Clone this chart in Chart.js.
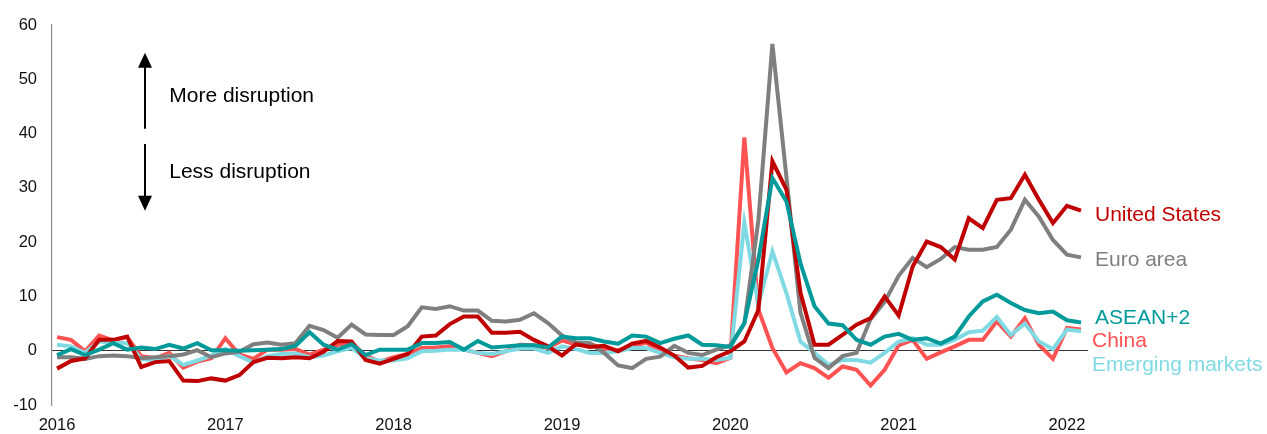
<!DOCTYPE html>
<html>
<head>
<meta charset="utf-8">
<script src="https://cdn.jsdelivr.net/npm/chart.js@4.4.1/dist/chart.umd.min.js"></script>
<style>
  html, body { margin: 0; padding: 0; background: #fff; }
  #wrap { width: 1267px; height: 434px; }
</style>
</head>
<body>
<div id="wrap"><canvas id="chart" width="1267" height="434"></canvas></div>
<script>
// Monthly index values, Jan 2016 - Feb 2022
const years = ['2016', '2017', '2018', '2019', '2020', '2021', '2022'];

const unitedStates = [
  -3.3, -1.9, -1.4, 2.0, 2.0, 2.6, -3.0, -2.1, -1.9, -5.5, -5.6, -5.1,
  -5.5, -4.5, -2.1, -1.3, -1.4, -1.2, -1.4, -0.2, 1.8, 1.7, -1.7, -2.4,
  -1.5, -0.6, 2.6, 2.8, 4.9, 6.3, 6.3, 3.3, 3.3, 3.5, 2.0, 0.8,
  -0.9, 1.2, 0.7, 0.9, -0.1, 1.3, 1.8, 0.6, -0.9, -3.1, -2.8, -1.2,
  -0.1, 1.7, 7.5, 34.9, 29.7, 10.7, 1.1, 1.1, 2.9, 4.8, 6.0, 10.0,
  6.5, 15.5, 20.1, 19.1, 16.8, 24.4, 22.6, 27.8, 28.1, 32.4, 27.8, 23.5,
  26.7, 25.8
];

const euroArea = [
  -1.2, -1.2, -1.5, -1.0, -0.9, -1.0, -1.4, -1.2, -1.0, -0.7, 0.1, -1.2,
  -0.5, -0.2, 1.2, 1.5, 1.1, 1.4, 4.6, 3.8, 2.4, 4.8, 3.0, 2.9,
  2.9, 4.5, 8.0, 7.7, 8.2, 7.4, 7.4, 5.5, 5.4, 5.7, 6.9, 5.1,
  2.8, 1.5, 1.4, -0.4, -2.7, -3.2, -1.5, -1.1, 0.9, -0.4, -0.8, 0.2,
  1.0, 5.0, 24.0, 56.5, 32.0, 7.0, -1.3, -3.2, -1.0, -0.4, 5.8, 9.0,
  13.8, 17.1, 15.4, 16.9, 19.1, 18.6, 18.6, 19.1, 22.3, 27.8, 24.7, 20.4,
  17.7, 17.2
];

const aseanPlus2 = [
  -0.8, 0.3, -0.8, 0.2, 1.4, 0.2, 0.6, 0.3, 1.1, 0.4, 1.4, 0.1,
  0.1, 0.0, 0.1, 0.2, 0.3, 0.9, 3.4, 1.1, 0.2, 1.2, -0.8, 0.2,
  0.2, 0.2, 1.4, 1.4, 1.6, 0.2, 1.8, 0.6, 0.8, 1.0, 1.0, 0.6,
  2.6, 2.3, 2.3, 1.7, 1.3, 2.8, 2.6, 1.4, 2.2, 2.8, 1.1, 1.0,
  0.7, 5.1, 16.8, 31.8, 27.5, 16.1, 8.2, 5.0, 4.7, 2.0, 1.1, 2.6,
  3.1, 2.0, 2.3, 1.3, 2.6, 6.3, 9.1, 10.3, 8.8, 7.5, 6.9, 7.2,
  5.6, 5.2
];

const china = [
  2.5, 2.0, -0.1, 2.8, 1.9, 2.5, -1.0, -1.4, -0.4, -3.1, -2.0, -1.4,
  2.3, -0.7, -1.5, 0.2, 0.2, 0.3, -0.7, 0.2, 1.1, 1.4, -0.9, -2.0,
  -1.2, -0.6, 0.5, 0.6, 0.8, 0.2, -0.4, -1.0, -0.1, 1.1, 1.0, 0.5,
  1.9, 1.1, 1.3, 0.3, 0.1, 0.8, 1.5, -0.1, -0.9, -1.4, -1.7, -2.3,
  -1.3, 39.3, 7.6, 0.5, -4.0, -2.3, -3.2, -5.0, -2.9, -3.5, -6.4, -3.5,
  1.0, 2.0, -1.5, -0.3, 0.8, 2.0, 2.0, 5.4, 2.6, 6.0, 1.1, -1.5,
  4.2, 3.9
];

const emergingMarkets = [
  1.1, 0.8, -0.4, 1.7, 1.5, 1.4, -1.5, -1.8, -0.9, -2.6, -1.8, -0.9,
  0.3, -1.0, -2.2, -1.0, -0.6, -0.5, -1.2, -0.9, -0.1, 0.5, -1.4, -1.8,
  -1.8, -1.4, -0.1, 0.0, 0.2, 0.2, -0.4, -0.6, -0.1, 0.4, 0.4, -0.4,
  0.8, 0.3, -0.4, -0.4, -0.1, 0.5, 0.5, -0.4, -1.2, -1.5, -1.5, -1.7,
  -1.3, 23.6, 8.5, 18.3, 10.6, 1.7, -0.4, -2.6, -1.7, -1.7, -2.2, -0.4,
  1.7, 2.3, 1.1, 1.1, 2.0, 3.4, 3.7, 6.2, 2.9, 5.0, 1.7, 0.3,
  3.9, 3.6
];

const FONT = '"Liberation Sans", Arial, Helvetica, sans-serif';

// Colour, stacking order and where the name tag sits at the right end
const series = [
  { label: 'United States', data: unitedStates, color: '#c00000', order: 1, tagY: 25.0, tagDx: 14 },
  { label: 'Euro area', data: euroArea, color: '#7f7f7f', order: 2, tagY: 16.75, tagDx: 14 },
  { label: 'ASEAN+2', data: aseanPlus2, color: '#009a9a', order: 0, tagY: 6.07, tagDx: 14 },
  { label: 'China', data: china, color: '#ff5353', order: 4, tagY: 1.7, tagDx: 11 },
  { label: 'Emerging markets', data: emergingMarkets, color: '#80dae3', order: 3, tagY: -2.58, tagDx: 11 }
];

// "More / Less disruption" arrows, placed in axis units
const guideNote = { x: 6.27, upTip: 54.9, upTail: 40.9, downTail: 38.1, downTip: 25.8, textX: 8.0, moreY: 46.9, lessY: 32.8 };

const guides = {
  id: 'guides',
  afterDraw(chart) {
    const { ctx, scales: { x, y } } = chart;
    const ax = Math.round(x.getPixelForValue(guideNote.x));
    const head = 15, half = 7;
    ctx.save();
    ctx.strokeStyle = '#000';
    ctx.fillStyle = '#000';
    ctx.lineWidth = 2;

    const upTip = y.getPixelForValue(guideNote.upTip);
    ctx.beginPath();
    ctx.moveTo(ax, y.getPixelForValue(guideNote.upTail));
    ctx.lineTo(ax, upTip + head - 1);
    ctx.stroke();
    ctx.beginPath();
    ctx.moveTo(ax, upTip);
    ctx.lineTo(ax - half, upTip + head);
    ctx.lineTo(ax + half, upTip + head);
    ctx.closePath();
    ctx.fill();

    const downTip = y.getPixelForValue(guideNote.downTip);
    ctx.beginPath();
    ctx.moveTo(ax, y.getPixelForValue(guideNote.downTail));
    ctx.lineTo(ax, downTip - head + 1);
    ctx.stroke();
    ctx.beginPath();
    ctx.moveTo(ax, downTip);
    ctx.lineTo(ax - half, downTip - head);
    ctx.lineTo(ax + half, downTip - head);
    ctx.closePath();
    ctx.fill();

    ctx.font = '21px ' + FONT;
    ctx.textAlign = 'left';
    ctx.textBaseline = 'middle';
    const tx = x.getPixelForValue(guideNote.textX);
    ctx.fillText('More disruption', tx, y.getPixelForValue(guideNote.moreY));
    ctx.fillText('Less disruption', tx, y.getPixelForValue(guideNote.lessY));
    ctx.restore();
  }
};

// Series names printed past the last month
const endLabels = {
  id: 'endLabels',
  afterDatasetsDraw(chart) {
    const { ctx, scales: { x, y } } = chart;
    ctx.save();
    ctx.font = '21px ' + FONT;
    ctx.textAlign = 'left';
    ctx.textBaseline = 'middle';
    series.forEach(s => {
      ctx.fillStyle = s.color;
      ctx.fillText(s.label, x.getPixelForValue(s.data.length - 1) + s.tagDx, y.getPixelForValue(s.tagY));
    });
    ctx.restore();
  }
};

new Chart(document.getElementById('chart'), {
  type: 'line',
  data: {
    datasets: series.map(s => ({
      label: s.label,
      data: s.data.map((v, i) => ({ x: i, y: v })),
      borderColor: s.color,
      borderWidth: 4,
      borderJoinStyle: 'miter',
      pointRadius: 0,
      tension: 0,
      order: s.order
    }))
  },
  options: {
    responsive: false,
    animation: false,
    devicePixelRatio: 1,
    layout: { padding: { top: 25, right: 179, bottom: 0, left: 0 } },
    plugins: {
      legend: { display: false },
      tooltip: { enabled: false }
    },
    scales: {
      x: {
        type: 'linear',
        min: -0.36,
        max: 73.5,
        grid: { display: false },
        border: { display: false },
        afterBuildTicks: scale => {
          scale.ticks = years.map((_, k) => ({ value: k * 12 }));
        },
        ticks: {
          autoSkip: false,
          maxRotation: 0,
          padding: 3,
          color: '#111',
          font: { family: FONT, size: 16.5 },
          callback: (v, idx) => years[idx]
        },
        afterFit: scale => { scale.height = 29; }
      },
      y: {
        min: -10,
        max: 60,
        ticks: {
          stepSize: 10,
          padding: 15,
          color: '#111',
          font: { family: FONT, size: 16.5 }
        },
        grid: {
          drawTicks: false,
          lineWidth: 1,
          color: ctx => (ctx.tick && ctx.tick.value === 0 ? '#333' : 'rgba(0,0,0,0)')
        },
        border: { display: true, color: '#8c8c8c', width: 1.2 },
        afterFit: scale => { scale.width = 52; }
      }
    }
  },
  plugins: [guides, endLabels]
});
</script>
</body>
</html>
